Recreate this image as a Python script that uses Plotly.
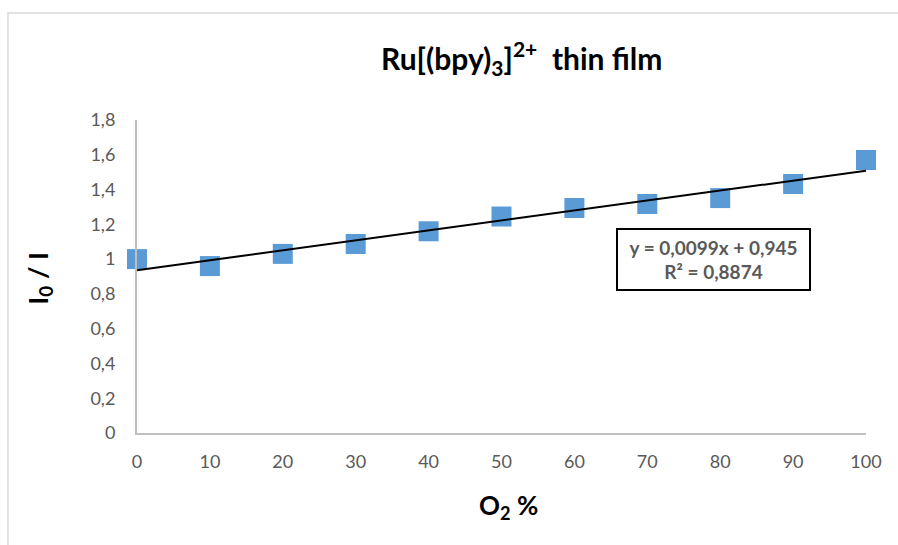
import numpy as np
import plotly.graph_objects as go

# O2 concentration (%) and Stern-Volmer ratio I0/I
o2_percent = [0, 10, 20, 30, 40, 50, 60, 70, 80, 90, 100]
i0_over_i = [1.00, 0.96, 1.03, 1.087, 1.16, 1.245, 1.294, 1.317, 1.351, 1.432, 1.57]

y_tickvals = [0, 0.2, 0.4, 0.6, 0.8, 1.0, 1.2, 1.4, 1.6, 1.8]
y_ticktext = ["0", "0,2", "0,4", "0,6", "0,8", "1", "1,2", "1,4", "1,6", "1,8"]
x_tickvals = [0, 10, 20, 30, 40, 50, 60, 70, 80, 90, 100]

equation_text = "y = 0,0099x + 0,945<br>R² = 0,8874"

# linear trendline fitted to the measurements
slope, intercept = np.polyfit(o2_percent, i0_over_i, 1)
fit_x = [min(o2_percent), max(o2_percent)]
fit_y = [intercept + slope * v for v in fit_x]

FONT = "Lato"
GRAY = "#595959"
AXIS_GRAY = "#BFBFBF"

fig = go.Figure()
fig.add_trace(go.Scatter(
    x=o2_percent, y=i0_over_i, mode="markers",
    marker=dict(symbol="square", size=20, color="#5B9BD5", line=dict(width=0)),
    showlegend=False, cliponaxis=False,
))
fig.add_trace(go.Scatter(
    x=fit_x, y=fit_y, mode="lines",
    line=dict(color="black", width=2),
    showlegend=False, cliponaxis=False,
))

fig.update_layout(
    width=898, height=545,
    margin=dict(l=137, r=32, t=120, b=112),
    paper_bgcolor="white", plot_bgcolor="white",
    font=dict(family=FONT, color=GRAY, size=18),
    xaxis=dict(
        range=[0, 100], tickvals=x_tickvals, showgrid=False, zeroline=False,
        showline=True, linecolor=AXIS_GRAY, linewidth=2,
        ticks="outside", ticklen=11, tickcolor="rgba(0,0,0,0)",
        tickfont=dict(family=FONT, size=18, color=GRAY),
    ),
    yaxis=dict(
        range=[0, 1.8], tickvals=y_tickvals, ticktext=y_ticktext,
        showgrid=False, zeroline=False,
        showline=True, linecolor=AXIS_GRAY, linewidth=2,
        ticks="outside", ticklen=16, tickcolor="rgba(0,0,0,0)",
        tickfont=dict(family=FONT, size=18, color=GRAY),
    ),
    shapes=[dict(
        type="rect", xref="paper", yref="paper",
        x0=-0.177, x1=1.06, y0=-0.4, y1=1.342,
        line=dict(color="#D9D9D9", width=1.5), fillcolor="rgba(0,0,0,0)",
        layer="below",
    )],
    annotations=[
        dict(
            text="Ru[(bpy)<sub>3</sub>]<sup>2+</sup>  thin film",
            xref="paper", yref="paper", x=0.528, y=1.198,
            xanchor="center", yanchor="middle", showarrow=False,
            font=dict(family=FONT, size=30, color="black", weight="bold"),
        ),
        dict(
            text="O<sub>2</sub> %",
            xref="paper", yref="paper", x=0.509, y=-0.236,
            xanchor="center", yanchor="middle", showarrow=False,
            font=dict(family=FONT, size=26, color="black", weight="bold"),
        ),
        dict(
            text="I<sub>0</sub> / I",
            xref="paper", yref="paper", x=-0.135, y=0.495,
            xanchor="center", yanchor="middle", showarrow=False, textangle=-90,
            font=dict(family=FONT, size=27, color="black", weight="bold"),
        ),
        dict(
            text=equation_text,
            xref="paper", yref="paper", x=0.791, y=0.554,
            xanchor="center", yanchor="middle", showarrow=False,
            align="center", width=189, height=57, borderpad=1,
            bordercolor="black", borderwidth=2, bgcolor="white",
            font=dict(family=FONT, size=19, color=GRAY, weight="bold"),
        ),
    ],
)

fig.write_html("out.html")
